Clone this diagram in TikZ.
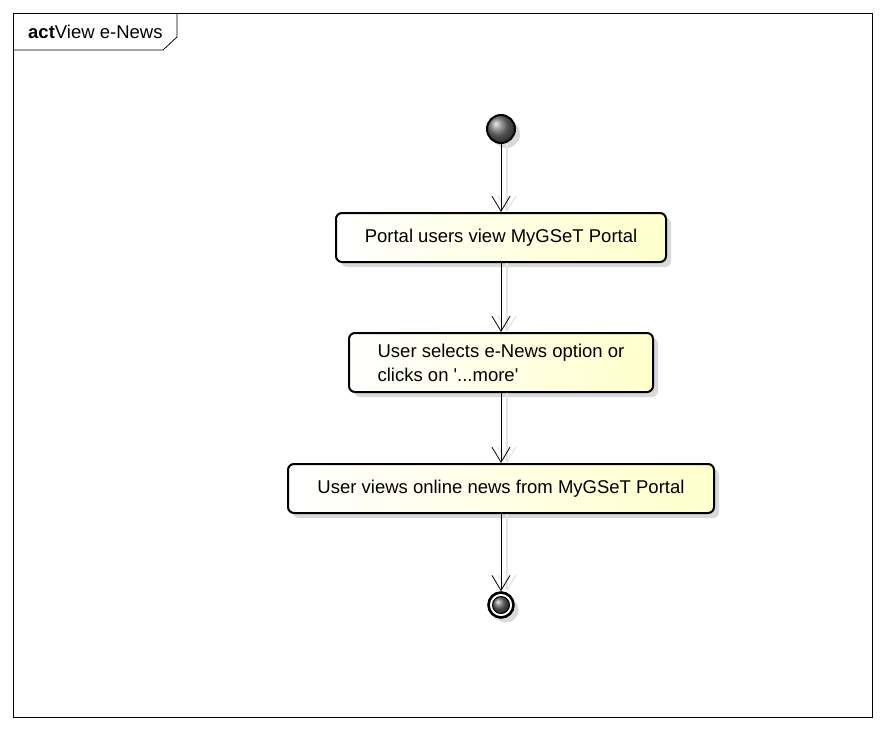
\documentclass[tikz,border=0pt]{standalone}
\usepackage{fontspec}
\setmainfont{Liberation Sans}[Ligatures=TeXOff]
\usetikzlibrary{arrows.meta,shadows}
\definecolor{lysgul}{RGB}{255,255,204}
\begin{document}
\begin{tikzpicture}[x=1pt,y=-1pt,
	tekst/.style={font=\fontsize{18.5}{24}\selectfont},
	skyggen/.style={drop shadow={shadow xshift=5pt, shadow yshift=-5pt, fill=black!15, opacity=1}},
	aktivitet/.style={tekst, draw, line width=2pt, rounded corners=6pt, inner sep=0pt,
		left color=white, right color=lysgul, skyggen},
	flyt/.style={line width=0.8pt, -{Straight Barb[length=15pt, width=18pt]}},
	flytskygge/.style={draw=black!10, line width=1.2pt, -{Straight Barb[length=15pt, width=18pt]}}]
	\useasboundingbox (0,0) rectangle (885,730);

	% Ramme
	\draw[line width=0.8pt] (13,13) rectangle (872,717);
	\draw[line width=0.8pt] (13,50) -- (163,50) -- (177,37) -- (177,13);
	\node[tekst, anchor=west, inner sep=0pt] (tittel) at (28,32) {\textbf{act}View e-News};

	% Start og slutt
	\node[circle, draw, line width=2pt, minimum size=28pt, inner sep=0pt, ball color=black!55, skyggen] (start) at (501,129) {};
	\node[circle, draw, line width=2.6pt, minimum size=25pt, inner sep=0pt, fill=white, skyggen] (slutt) at (501,605) {};
	\node[circle, draw, line width=1pt, minimum size=17pt, inner sep=0pt, ball color=black!60] (sluttkjerne) at (slutt.center) {};

	% Aktiviteter
	\node[aktivitet, minimum width=330pt, minimum height=49pt] (portal) at (501,237.5) {Portal users view MyGSeT Portal};
	\node[aktivitet, minimum width=304pt, minimum height=59pt, align=left] (velg) at (501,362.5) {User selects e-News option or\\clicks on '...more'};
	\node[aktivitet, minimum width=426pt, minimum height=49pt] (nyheter) at (501,488.5) {User views online news from MyGSeT Portal};

	% Skygger til pilene
	\draw[flytskygge] ([xshift=6pt]start.south) -- ([xshift=6pt]portal.north);
	\draw[flytskygge] ([xshift=6pt]portal.south) -- ([xshift=6pt]velg.north);
	\draw[flytskygge] ([xshift=6pt]velg.south) -- ([xshift=6pt]nyheter.north);
	\draw[flytskygge] ([xshift=6pt]nyheter.south) -- ([xshift=6pt]slutt.north);

	% Piler
	\draw[flyt] (start) -- (portal);
	\draw[flyt] (portal) -- (velg);
	\draw[flyt] (velg) -- (nyheter);
	\draw[flyt] (nyheter) -- (slutt);
\end{tikzpicture}
\end{document}
